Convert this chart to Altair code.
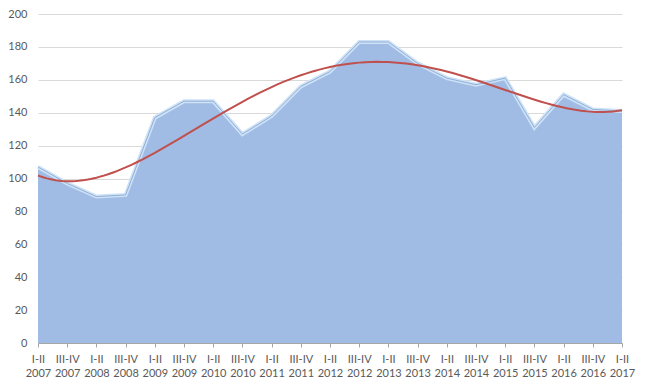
import json
import altair as alt
import pandas as pd

periods = ["I-II", "III-IV"] * 10 + ["I-II"]
years = [str(2007 + k // 2) for k in range(21)]
categories = [f"{p} {y}" for p, y in zip(periods, years)]
values = [107, 97, 89, 90, 137, 147, 147, 127, 138, 156, 165,
          183, 183, 170, 161, 157, 161, 131, 151, 142, 141]
y_ticks = [0, 20, 40, 60, 80, 100, 120, 140, 160, 180, 200]

df = pd.DataFrame({"i": list(range(len(values))), "cat": categories, "v": values})

label_expr = "split(" + json.dumps(categories) + "[datum.value], ' ')"

font = "Lato"
x = alt.X("i:Q", scale=alt.Scale(domain=[0, 20], nice=False, zero=False),
          axis=alt.Axis(values=list(range(21)), labelExpr=label_expr, title=None,
                        grid=False, domainColor="#A6A6A6", tickColor="#A6A6A6",
                        tickSize=4, labelPadding=6, labelFont=font, labelFontSize=11,
                        labelColor="#595959", labelLineHeight=14, labelAngle=0,
                        labelOverlap=False, labelBound=False, labelFlush=False))
y = alt.Y("v:Q", scale=alt.Scale(domain=[0, 200], nice=False),
          axis=alt.Axis(values=y_ticks, title=None, domain=False, ticks=False,
                        gridColor="#D9D9D9", labelPadding=11, labelFont=font,
                        labelFontSize=11, labelColor="#595959",
                        labelOverlap=False, labelFlush=False))

base = alt.Chart(df)
area = base.mark_area(color="#A0BCE4", opacity=1).encode(x=x, y=y)
edge_light = base.mark_line(color="#CFE2F6", strokeWidth=4).encode(x=x, y=y)
edge = base.mark_line(color="#8FB0DA", strokeWidth=1).encode(x=x, y=y)
trend = base.transform_regression("i", "v", method="poly", order=4).mark_line(
    color="#C0504D", strokeWidth=2).encode(x=x, y=y)

chart = alt.layer(area, edge_light, edge, trend).properties(
    width=584, height=329,
    autosize=alt.AutoSizeParams(type="none"),
    padding={"left": 30, "top": 6, "right": 15, "bottom": 34},
).configure_view(stroke=None)

chart.save("out.html", embed_options={"renderer": "svg", "actions": False})
